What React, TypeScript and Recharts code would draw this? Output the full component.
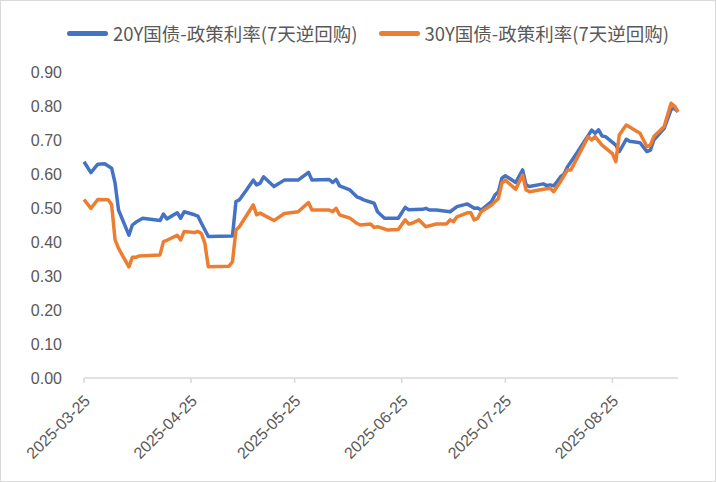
import React from 'react'
import { LineChart, Line, XAxis, YAxis } from 'recharts'

const blueDates = [
  '2025-03-25', '2025-03-27', '2025-03-29', '2025-03-31', '2025-04-02', '2025-04-03', '2025-04-04',
  '2025-04-07', '2025-04-08', '2025-04-09', '2025-04-11', '2025-04-16', '2025-04-17', '2025-04-18',
  '2025-04-21', '2025-04-22', '2025-04-23', '2025-04-26', '2025-04-27', '2025-04-28', '2025-04-30',
  '2025-05-07', '2025-05-08', '2025-05-09', '2025-05-11', '2025-05-13', '2025-05-14', '2025-05-15',
  '2025-05-16', '2025-05-19', '2025-05-22', '2025-05-26', '2025-05-29', '2025-05-30', '2025-06-04',
  '2025-06-05', '2025-06-06', '2025-06-07', '2025-06-10', '2025-06-12', '2025-06-13', '2025-06-14',
  '2025-06-17', '2025-06-18', '2025-06-20', '2025-06-24', '2025-06-26', '2025-06-27', '2025-07-01',
  '2025-07-02', '2025-07-03', '2025-07-05', '2025-07-09', '2025-07-11', '2025-07-14', '2025-07-16',
  '2025-07-17', '2025-07-18', '2025-07-21', '2025-07-22', '2025-07-23', '2025-07-24', '2025-07-25',
  '2025-07-28', '2025-07-30', '2025-07-31', '2025-08-01', '2025-08-05', '2025-08-06', '2025-08-07',
  '2025-08-08', '2025-08-09', '2025-08-10', '2025-08-11', '2025-08-12', '2025-08-15', '2025-08-19',
  '2025-08-20', '2025-08-21', '2025-08-22', '2025-08-23', '2025-08-26', '2025-08-27', '2025-08-29',
  '2025-08-30', '2025-09-02', '2025-09-04', '2025-09-05', '2025-09-06', '2025-09-09', '2025-09-11',
  '2025-09-12', '2025-09-13',
]
const blueValues = [
  0.636, 0.604, 0.629, 0.630, 0.617, 0.573, 0.494,
  0.420, 0.450, 0.458, 0.470, 0.463, 0.482, 0.468,
  0.486, 0.470, 0.489, 0.480, 0.476, 0.455, 0.416,
  0.418, 0.519, 0.524, 0.552, 0.582, 0.568, 0.573,
  0.592, 0.563, 0.582, 0.582, 0.605, 0.582, 0.584,
  0.575, 0.584, 0.565, 0.553, 0.533, 0.529, 0.524,
  0.514, 0.489, 0.470, 0.470, 0.502, 0.495, 0.496,
  0.499, 0.494, 0.494, 0.489, 0.504, 0.512, 0.499,
  0.500, 0.494, 0.519, 0.538, 0.548, 0.588, 0.595,
  0.575, 0.612, 0.568, 0.563, 0.571, 0.566, 0.568,
  0.565, 0.578, 0.592, 0.600, 0.621, 0.666, 0.729,
  0.720, 0.730, 0.712, 0.710, 0.685, 0.666, 0.702,
  0.696, 0.692, 0.666, 0.670, 0.700, 0.734, 0.790,
  0.793, 0.783,
]

const orangeDates = [
  '2025-03-25', '2025-03-27', '2025-03-29', '2025-04-01', '2025-04-02', '2025-04-03', '2025-04-04',
  '2025-04-07', '2025-04-08', '2025-04-09', '2025-04-10', '2025-04-16', '2025-04-17', '2025-04-18',
  '2025-04-21', '2025-04-22', '2025-04-23', '2025-04-26', '2025-04-27', '2025-04-28', '2025-04-29',
  '2025-04-30', '2025-05-06', '2025-05-07', '2025-05-08', '2025-05-09', '2025-05-13', '2025-05-14',
  '2025-05-15', '2025-05-19', '2025-05-22', '2025-05-26', '2025-05-29', '2025-05-30', '2025-06-04',
  '2025-06-05', '2025-06-06', '2025-06-07', '2025-06-10', '2025-06-12', '2025-06-13', '2025-06-16',
  '2025-06-17', '2025-06-18', '2025-06-21', '2025-06-24', '2025-06-26', '2025-06-27', '2025-06-28',
  '2025-06-30', '2025-07-02', '2025-07-05', '2025-07-08', '2025-07-09', '2025-07-10', '2025-07-11',
  '2025-07-14', '2025-07-15', '2025-07-16', '2025-07-17', '2025-07-18', '2025-07-21', '2025-07-23',
  '2025-07-24', '2025-07-25', '2025-07-28', '2025-07-30', '2025-07-31', '2025-08-01', '2025-08-05',
  '2025-08-07', '2025-08-08', '2025-08-10', '2025-08-12', '2025-08-13', '2025-08-18', '2025-08-19',
  '2025-08-20', '2025-08-22', '2025-08-25', '2025-08-26', '2025-08-27', '2025-08-29', '2025-08-30',
  '2025-09-02', '2025-09-04', '2025-09-05', '2025-09-06', '2025-09-09', '2025-09-10', '2025-09-11',
  '2025-09-12', '2025-09-13',
]
const orangeValues = [
  0.525, 0.499, 0.525, 0.524, 0.510, 0.406, 0.381,
  0.327, 0.355, 0.355, 0.359, 0.362, 0.401, 0.405,
  0.420, 0.406, 0.431, 0.428, 0.431, 0.425, 0.396,
  0.327, 0.329, 0.342, 0.435, 0.445, 0.509, 0.480,
  0.485, 0.463, 0.484, 0.489, 0.516, 0.494, 0.494,
  0.489, 0.499, 0.480, 0.470, 0.455, 0.450, 0.453,
  0.443, 0.445, 0.435, 0.437, 0.465, 0.453, 0.455,
  0.465, 0.445, 0.453, 0.453, 0.465, 0.460, 0.474,
  0.486, 0.486, 0.465, 0.470, 0.489, 0.509, 0.528,
  0.573, 0.582, 0.555, 0.597, 0.553, 0.548, 0.555,
  0.558, 0.548, 0.578, 0.612, 0.612, 0.710, 0.700,
  0.710, 0.685, 0.660, 0.636, 0.715, 0.744, 0.738,
  0.720, 0.680, 0.685, 0.710, 0.740, 0.774, 0.808,
  0.800, 0.783,
]

const tickDates = ['2025-03-25', '2025-04-25', '2025-05-25', '2025-06-25', '2025-07-25', '2025-08-25']
const yTicks = [0, 0.1, 0.2, 0.3, 0.4, 0.5, 0.6, 0.7, 0.8, 0.9]

const seriesNames = ['20Y国债-政策利率(7天逆回购)', '30Y国债-政策利率(7天逆回购)']
const colors = ['#4472C4', '#ED7D31']

const START = Date.UTC(2025, 2, 25)
const dayOf = (d: string) => {
  const [y, m, dd] = d.split('-').map(Number)
  return Math.round((Date.UTC(y, m - 1, dd) - START) / 86400000)
}

// merge both series onto one day axis
const byDay: Record<number, { day: number; s20?: number; s30?: number }> = {}
blueDates.forEach((d, i) => {
  const k = dayOf(d)
  byDay[k] = { ...(byDay[k] || { day: k }), s20: blueValues[i] }
})
orangeDates.forEach((d, i) => {
  const k = dayOf(d)
  byDay[k] = { ...(byDay[k] || { day: k }), s30: orangeValues[i] }
})
const chartData = Object.values(byDay).sort((a, b) => a.day - b.day)

const labelByDay: Record<number, string> = {}
tickDates.forEach((d) => (labelByDay[dayOf(d)] = d))

const FONT = '"Liberation Sans", "Noto Sans CJK SC", sans-serif'

const XTick = (props: any) => {
  const { x, y, payload } = props
  return (
    <g transform={`translate(${x + 3},${y + 13})`}>
      <text x={0} y={0} dy="0.35em" textAnchor="end" transform="rotate(-45)" fill="#595959" fontSize={16} fontFamily={FONT}>
        {labelByDay[payload.value]}
      </text>
    </g>
  )
}

export default function App() {
  return (
    <div style={{ position: 'absolute', left: 0, top: 0, width: 716, height: 482, background: '#fff' }}>
      <div style={{ position: 'absolute', inset: 0, border: '1px solid #d9d9d9', pointerEvents: 'none', zIndex: 2 }} />
      <div
        style={{
          position: 'absolute',
          top: 17,
          left: 0,
          width: 716,
          height: 32,
          paddingLeft: 20,
          boxSizing: 'border-box',
          display: 'flex',
          alignItems: 'center',
          justifyContent: 'center',
          gap: 21,
          fontFamily: '"Noto Sans CJK SC", sans-serif',
          fontSize: 18.5,
          color: '#595959',
          zIndex: 1,
        }}
      >
        {seriesNames.map((name, i) => (
          <div key={name} style={{ display: 'flex', alignItems: 'center' }}>
            <span style={{ display: 'inline-block', width: 41, height: 5, borderRadius: 3, background: colors[i], marginRight: 5 }} />
            <span style={{ lineHeight: '32px' }}>{name}</span>
          </div>
        ))}
      </div>
      <LineChart width={716} height={482} data={chartData} margin={{ top: 72, right: 38, left: 24, bottom: 24 }}>
        <XAxis
          dataKey="day"
          type="number"
          domain={[0, 172]}
          ticks={tickDates.map(dayOf)}
          tick={<XTick />}
          height={80}
          stroke="#d9d9d9"
          strokeWidth={1.5}
          tickSize={5}
          interval={0}
        />
        <YAxis
          domain={[0, 0.9]}
          ticks={yTicks}
          width={60}
          axisLine={false}
          tickLine={false}
          tickMargin={16}
          tickFormatter={(v: number) => v.toFixed(2)}
          tick={{ fill: '#595959', fontSize: 16, fontFamily: FONT }}
        />
        <Line type="linear" dataKey="s20" stroke={colors[0]} strokeWidth={3.5} dot={false} connectNulls isAnimationActive={false} strokeLinejoin="round" />
        <Line type="linear" dataKey="s30" stroke={colors[1]} strokeWidth={3.5} dot={false} connectNulls isAnimationActive={false} strokeLinejoin="round" />
      </LineChart>
    </div>
  )
}
